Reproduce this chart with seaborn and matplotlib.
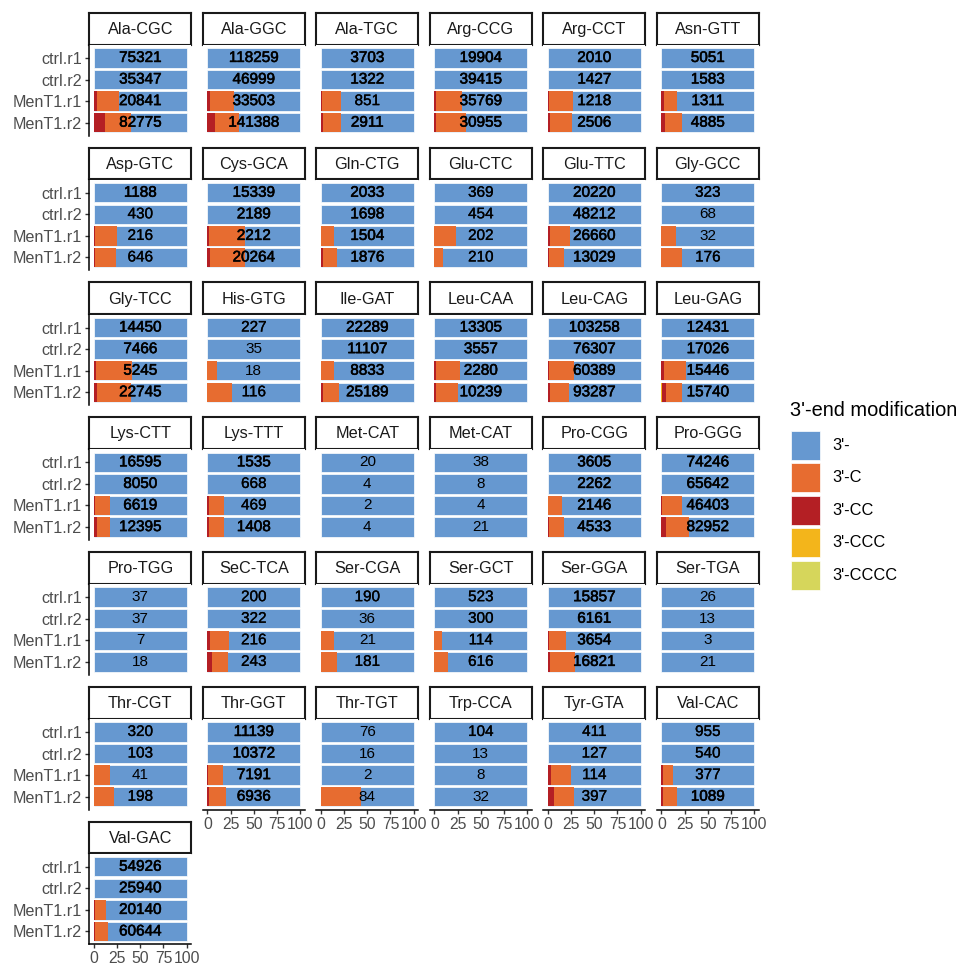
import matplotlib
matplotlib.use("Agg")
import matplotlib.pyplot as plt
from matplotlib import patheffects as pe
from matplotlib.patches import Rectangle
import pandas as pd
import seaborn as sns

sns.set_style("white")
plt.rcParams["font.family"] = ["Liberation Sans", "DejaVu Sans"]

# ---------------------------------------------------------------- data
trnas = ["Ala-CGC", "Ala-GGC", "Ala-TGC", "Arg-CCG", "Arg-CCT", "Asn-GTT",
         "Asp-GTC", "Cys-GCA", "Gln-CTG", "Glu-CTC", "Glu-TTC", "Gly-GCC",
         "Gly-TCC", "His-GTG", "Ile-GAT", "Leu-CAA", "Leu-CAG", "Leu-GAG",
         "Lys-CTT", "Lys-TTT", "Met-CAT", "Met-CAT", "Pro-CGG", "Pro-GGG",
         "Pro-TGG", "SeC-TCA", "Ser-CGA", "Ser-GCT", "Ser-GGA", "Ser-TGA",
         "Thr-CGT", "Thr-GGT", "Thr-TGT", "Trp-CCA", "Tyr-GTA", "Val-CAC",
         "Val-GAC"]
samples = ["ctrl.r1", "ctrl.r2", "MenT1.r1", "MenT1.r2"]

# read counts per tRNA
reads_ctrl_r1 = [75321, 118259, 3703, 19904, 2010, 5051, 1188, 15339, 2033, 369,
                 20220, 323, 14450, 227, 22289, 13305, 103258, 12431, 16595, 1535,
                 20, 38, 3605, 74246, 37, 200, 190, 523, 15857, 26, 320, 11139,
                 76, 104, 411, 955, 54926]
reads_ctrl_r2 = [35347, 46999, 1322, 39415, 1427, 1583, 430, 2189, 1698, 454,
                 48212, 68, 7466, 35, 11107, 3557, 76307, 17026, 8050, 668,
                 4, 8, 2262, 65642, 37, 322, 36, 300, 6161, 13, 103, 10372,
                 16, 13, 127, 540, 25940]
reads_ment1_r1 = [20841, 33503, 851, 35769, 1218, 1311, 216, 2212, 1504, 202,
                  26660, 32, 5245, 18, 8833, 2280, 60389, 15446, 6619, 469,
                  2, 4, 2146, 46403, 7, 216, 21, 114, 3654, 3, 41, 7191,
                  2, 8, 114, 377, 20140]
reads_ment1_r2 = [82775, 141388, 2911, 30955, 2506, 4885, 646, 20264, 1876, 210,
                  13029, 176, 22745, 116, 25189, 10239, 93287, 15740, 12395, 1408,
                  4, 21, 4533, 82952, 18, 243, 181, 616, 16821, 21, 198, 6936,
                  84, 32, 397, 1089, 60644]

# percent of reads carrying each 3'-end extension (MenT1 samples)
pct_c_ment1_r1 = [23.5, 26, 21, 28, 26, 13.5, 24, 38, 14, 23, 21.5, 15.7, 38.5,
                  10.5, 13.5, 25.5, 27, 23.8, 16, 16, 0, 0, 15, 21, 0, 21.2, 14,
                  8, 18.7, 0, 17, 16, 0, 0, 22, 10, 12]
pct_cc_ment1_r1 = [3.5, 3, 0.8, 1.8, 1.5, 3, 1, 2, 0, 0, 2, 0, 2.5, 0, 0.5, 2,
                   1, 3.2, 1, 2, 0, 0, 0, 1, 0, 2.5, 0, 0, 1, 0, 0, 1, 0, 0, 3,
                   2, 1]
pct_c_ment1_r2 = [28, 26, 19.5, 32.5, 24, 18.5, 22.5, 37.5, 15.5, 9.5, 15.5, 22,
                  37.5, 27, 17, 23, 21, 18, 14.5, 15.5, 0, 0, 16.5, 24.8, 0,
                  16.6, 17.5, 15, 27, 0, 22, 18.5, 43, 0, 22, 14.5, 14]
pct_cc_ment1_r2 = [12, 8, 2.5, 1.5, 2, 4, 1, 3, 2, 0, 1.5, 0, 3, 0, 2, 2, 2, 3.5,
                   3, 2, 0, 0, 1, 4.6, 0, 5.4, 0, 0, 2, 0, 0, 1.5, 0, 0, 6, 2, 1]
pct_ccc_ment1_r2 = [0] * 17 + [1] + [0] * 19

modifications = ["3'-", "3'-C", "3'-CC", "3'-CCC", "3'-CCCC"]
mod_colors = ["#6698D0", "#E76C30", "#B41F24", "#F3B51B", "#D6D65B"]

# ---------------------------------------------------------------- tidy table
rows = []
for i, t in enumerate(trnas):
    per_sample = [
        (reads_ctrl_r1[i], 0, 0, 0, 0),
        (reads_ctrl_r2[i], 0, 0, 0, 0),
        (reads_ment1_r1[i], pct_c_ment1_r1[i], pct_cc_ment1_r1[i], 0, 0),
        (reads_ment1_r2[i], pct_c_ment1_r2[i], pct_cc_ment1_r2[i],
         pct_ccc_ment1_r2[i], 0),
    ]
    for s, (n, c, cc, ccc, cccc) in zip(samples, per_sample):
        rows.append(dict(panel=i, trna=t, sample=s, reads=n,
                         c=c, cc=cc, ccc=ccc, cccc=cccc))
df = pd.DataFrame(rows)
# stacked from the left: CCCC | CCC | CC | C | unmodified
df["cum_cccc"] = df["cccc"]
df["cum_ccc"] = df["cum_cccc"] + df["ccc"]
df["cum_cc"] = df["cum_ccc"] + df["cc"]
df["cum_c"] = df["cum_cc"] + df["c"]
df["cum_all"] = 100.0
layer_cols = ["cum_all", "cum_c", "cum_cc", "cum_ccc", "cum_cccc"]

# ---------------------------------------------------------------- layout
W, H = 960, 965
fig = plt.figure(figsize=(W / 100, H / 100), dpi=100)


def fig_box(left, top, width, height):
    return [left / W, 1 - (top + height) / H, width / W, height / H]


ncol = 6
col_left0, col_pitch, panel_w = 89.3, 113.5, 102
row_top0, row_pitch, strip_h, panel_h = 12.7, 134.8, 31.8, 90.6
grey_txt = "#4D4D4D"

n_panels = len(trnas)
for i, t in enumerate(trnas):
    r, c = divmod(i, ncol)
    left = col_left0 + c * col_pitch
    top = row_top0 + r * row_pitch

    # strip
    sax = fig.add_axes(fig_box(left, top, panel_w, strip_h))
    sax.set_xticks([]); sax.set_yticks([])
    for sp in sax.spines.values():
        sp.set_visible(True); sp.set_color("#1A1A1A"); sp.set_linewidth(1.5)
    sax.text(0.5, 0.47, t, ha="center", va="center", fontsize=11.7,
             color="#1A1A1A", transform=sax.transAxes)

    # panel
    ax = fig.add_axes(fig_box(left, top + strip_h + 0.5, panel_w, panel_h))
    sub = df[df["panel"] == i]
    for col, colr in zip(layer_cols, mod_colors):
        if (sub[col] > 0).any():
            sns.barplot(data=sub, x=col, y="sample", order=samples, orient="h",
                        color=colr, saturation=1, width=0.9, errorbar=None,
                        ax=ax, linewidth=0.5 if col == "cum_all" else 0,
                        edgecolor="white")
    for s, n in zip(sub["sample"], sub["reads"]):
        if n >= 1000:
            sw = 0.4
        elif n >= 100:
            sw = 0.2
        else:
            sw = 0.0
        txt = ax.text(50, samples.index(s), f"{n}", ha="center", va="center",
                      fontsize=11, color="black")
        if sw > 0:
            txt.set_path_effects([pe.withStroke(linewidth=sw, foreground="black")])

    ax.set_xlim(-5, 105)
    ax.set_ylim(3.6, -0.6)
    ax.set_xlabel(""); ax.set_ylabel("")
    for sp in ax.spines.values():
        sp.set_visible(False)

    bottom_of_col = (i + ncol >= n_panels)
    if c == 0:
        ax.spines["left"].set_visible(True)
        ax.spines["left"].set_color("black")
        ax.spines["left"].set_linewidth(1.1)
        ax.set_yticks(range(4))
        ax.set_yticklabels(samples)
        ax.tick_params(axis="y", length=3, width=1, color="#333333",
                       labelsize=11.6, labelcolor=grey_txt, pad=2, left=True)
    else:
        ax.set_yticks([])
    if bottom_of_col:
        ax.spines["bottom"].set_visible(True)
        ax.spines["bottom"].set_color("black")
        ax.spines["bottom"].set_linewidth(1.1)
        ax.set_xticks([0, 25, 50, 75, 100])
        ax.set_xticklabels(["0", "25", "50", "75", "100"])
        ax.tick_params(axis="x", length=3, width=1, color="#333333",
                       labelsize=11.3, labelcolor=grey_txt, pad=2, bottom=True)
    else:
        ax.set_xticks([])

# ---------------------------------------------------------------- legend
fig.text(790 / W, 1 - 410 / H, "3'-end modification", ha="left", va="center",
         fontsize=14.4, color="black")
for k, (lab, colr) in enumerate(zip(modifications, mod_colors)):
    top = 430.7 + 32.5 * k
    fig.add_artist(Rectangle((791 / W, 1 - (top + 29) / H), 29 / W, 29 / H,
                             transform=fig.transFigure, facecolor=colr,
                             edgecolor="white", linewidth=0.5))
    fig.text(832 / W, 1 - (top + 14.5) / H, lab, ha="left", va="center",
             fontsize=11.8, color="black")

fig.savefig("out.png", dpi=100, facecolor="white")
